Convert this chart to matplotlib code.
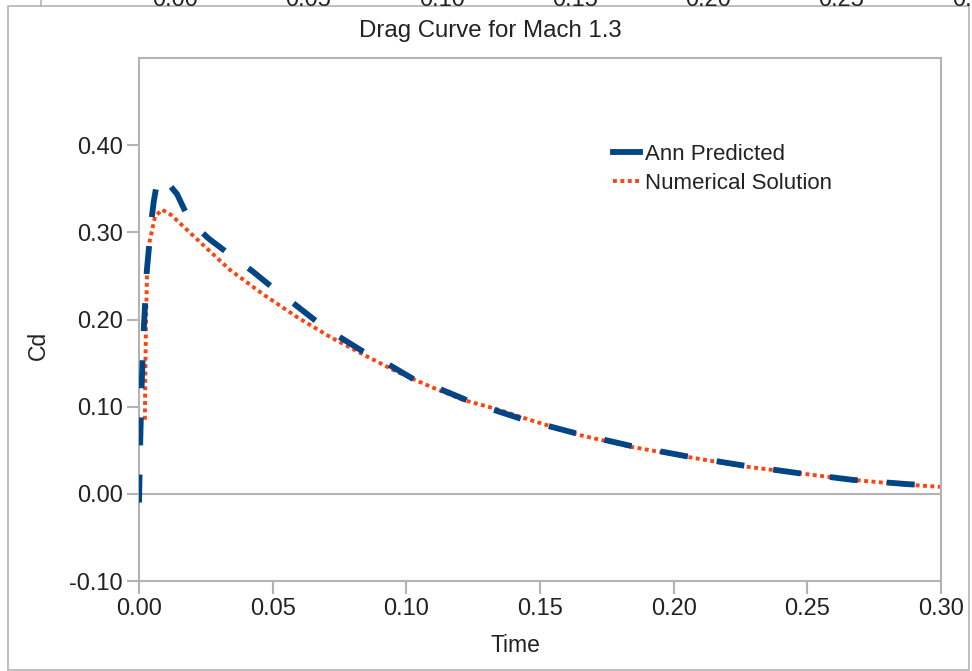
import matplotlib
matplotlib.use("Agg")
import matplotlib.pyplot as plt
from matplotlib.patches import Rectangle
from matplotlib.lines import Line2D

plt.rcParams['font.family'] = ['Liberation Sans', 'DejaVu Sans']

# ---- data ----
ann_t = [0.0, 0.0002, 0.0005, 0.001, 0.0018, 0.0029, 0.0047, 0.0055, 0.007, 0.009,
         0.0142, 0.019, 0.026, 0.035, 0.0426, 0.051, 0.058, 0.068, 0.075, 0.085,
         0.093, 0.103, 0.112, 0.123, 0.131, 0.143, 0.164, 0.184, 0.205, 0.225,
         0.246, 0.267, 0.288, 0.2945]
ann_cd = [-0.01, 0.02, 0.065, 0.125, 0.19, 0.255, 0.315, 0.335, 0.362, 0.363,
          0.344, 0.313, 0.293, 0.272, 0.255, 0.234, 0.218, 0.194, 0.180, 0.161,
          0.149, 0.131, 0.121, 0.107, 0.098, 0.086, 0.069, 0.055, 0.043, 0.033,
          0.024, 0.016, 0.011, 0.010]

num_t = [0.0022, 0.0024, 0.0027, 0.003, 0.004, 0.006, 0.0086, 0.012, 0.0217, 0.034,
         0.0464, 0.059, 0.0715, 0.0838, 0.0965, 0.109, 0.121, 0.134, 0.146, 0.164,
         0.184, 0.205, 0.225, 0.246, 0.267, 0.288, 0.300]
num_cd = [0.085, 0.15, 0.21, 0.25, 0.29, 0.318, 0.326, 0.320, 0.292, 0.257,
          0.229, 0.203, 0.180, 0.160, 0.140, 0.123, 0.108, 0.097, 0.085, 0.068,
          0.054, 0.0425, 0.032, 0.024, 0.016, 0.0103, 0.008]

x_ticks = [0.00, 0.05, 0.10, 0.15, 0.20, 0.25, 0.30]
y_ticks = [-0.10, 0.00, 0.10, 0.20, 0.30, 0.40]
top_labels = ["0.00", "0.05", "0.10", "0.15", "0.20", "0.25", "0.30"]

W, H = 972, 671
fig = plt.figure(figsize=(W / 100, H / 100), dpi=100)
fig.patch.set_facecolor('white')

def fx(px):
    return px / W

def fy(py):
    return 1 - py / H

grey = '#b3b3b3'
txt = '#222222'

# outer chart border
fig.patches.append(Rectangle((fx(8), fy(670)), fx(969) - fx(8), fy(6) - fy(670),
                             transform=fig.transFigure, fill=False,
                             edgecolor=grey, lw=1.2))
# remnants of a neighbouring chart at the top (cut off by the image edge)
fig.lines.append(Line2D([fx(41), fx(41)], [fy(0), fy(6)], transform=fig.transFigure,
                        color=grey, lw=1.2))
for i, lab in enumerate(top_labels):
    fig.text(fx(175 + 133.3 * i), fy(6), lab, ha='center', va='baseline',
             fontsize=17, color=txt)

ax = fig.add_axes([fx(139), fy(581), fx(941) - fx(139), fy(58) - fy(581)])
ax.set_xlim(0, 0.30)
ax.set_ylim(-0.10, 0.50)
ax.set_xticks(x_ticks)
ax.set_yticks(y_ticks)
ax.set_xticklabels([f"{v:.2f}" for v in x_ticks])
ax.set_yticklabels([f"{v:.2f}" for v in y_ticks])
for s in ax.spines.values():
    s.set_color(grey)
    s.set_linewidth(1.5)
ax.tick_params(axis='both', colors=grey, length=9, width=1.5, direction='out',
               labelsize=17, labelcolor=txt)
ax.tick_params(axis='y', pad=2.5)
ax.tick_params(axis='x', pad=3)
ax.axhline(0, color=grey, lw=1.5, zorder=1)

ax.plot(num_t, num_cd, color='#ff420e', lw=2.8, linestyle=(0, (1.0, 0.9)),
        dash_capstyle='butt', label='Numerical Solution', zorder=2)
ax.plot(ann_t, ann_cd, color='#004586', lw=4.2, linestyle=(0, (4.8, 5.0)),
        dash_capstyle='butt', label='Ann Predicted', zorder=3)

handles = [Line2D([], [], color='#004586', lw=4.2),
           Line2D([], [], color='#ff420e', lw=2.8, linestyle=(0, (1.0, 0.9)))]
leg = ax.legend(handles, ['Ann Predicted', 'Numerical Solution'],
                loc='upper left',
                bbox_to_anchor=((fx(613) - fx(139)) / (fx(941) - fx(139)),
                                (fy(144) - fy(581)) / (fy(58) - fy(581))),
                bbox_transform=ax.transAxes, frameon=False, fontsize=16,
                handlelength=1.2, handletextpad=0.25, labelspacing=0.35,
                borderaxespad=0, borderpad=0)
for t in leg.get_texts():
    t.set_color(txt)

fig.text(fx(490), fy(31), 'Drag Curve for Mach 1.3', ha='center', va='center',
         fontsize=17.3, color=txt)
fig.text(fx(515), fy(645), 'Time', ha='center', va='center', fontsize=16.5, color=txt)
fig.text(fx(38), fy(345), 'Cd', ha='center', va='center', rotation=90,
         fontsize=16.5, color=txt)

fig.savefig('out.png', dpi=100)
